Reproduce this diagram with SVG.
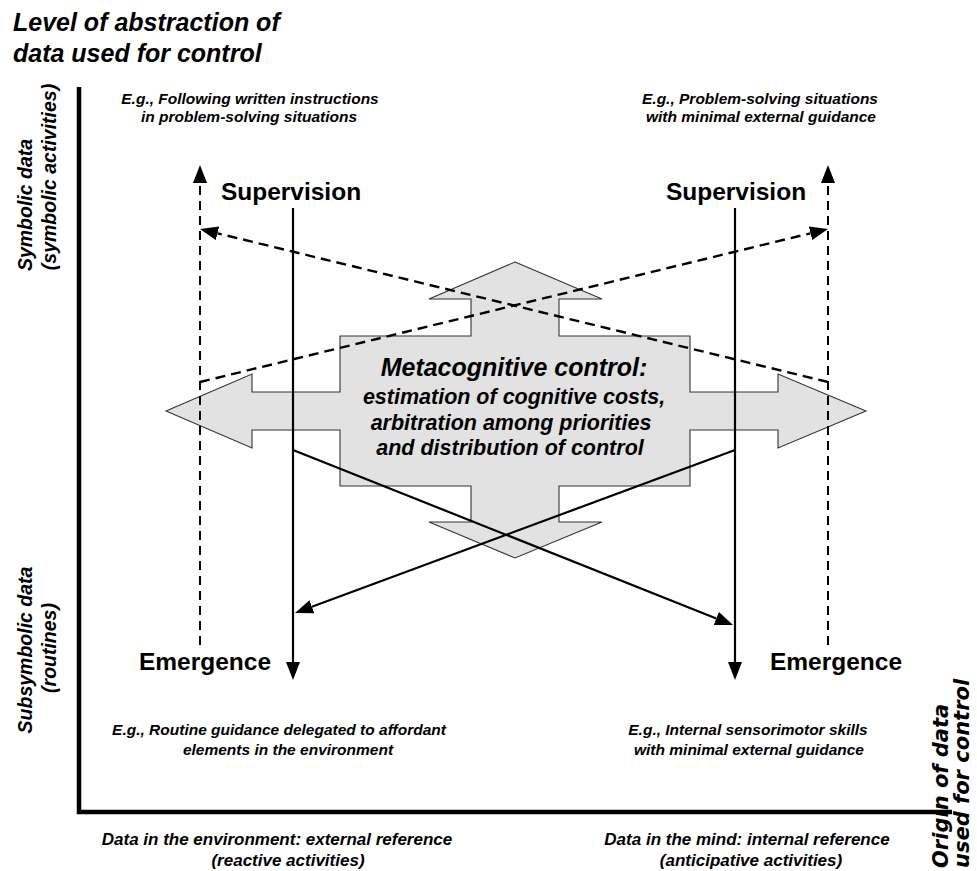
<svg xmlns="http://www.w3.org/2000/svg" width="977" height="871" viewBox="0 0 977 871">
<style>
  text { font-family: "Liberation Sans", Arial, sans-serif; fill: #000; }
  .bi { font-weight: bold; font-style: italic; }
  .b { font-weight: bold; }
  .title { font-size: 25px; }
  .side { font-size: 19.5px; }
  .ex { font-size: 15.5px; }
  .ax { font-size: 17px; }
  .lab { font-size: 24.5px; }
  .origin { font-family: "DejaVu Sans", Verdana, sans-serif; font-size: 21px; font-weight: bold; font-style: oblique; }
  .axis { stroke: #000; stroke-width: 4.5; fill: none; }
  .solid { stroke: #000; stroke-width: 2.2; fill: none; }
  .dash { stroke: #000; stroke-width: 2.4; fill: none; stroke-dasharray: 10 6; }
  .vdash { stroke: #000; stroke-width: 2; fill: none; stroke-dasharray: 9 6; }
  .cross { fill: #e2e2e2; stroke: #333; stroke-width: 1.1; }
</style>
<defs>
  <marker id="ah" viewBox="0 -7 18 14" refX="0" refY="0" markerWidth="18" markerHeight="14" markerUnits="userSpaceOnUse" orient="auto">
    <path d="M0,-7 L18,0 L0,7 z" fill="#000"/>
  </marker>
</defs>
<rect width="977" height="871" fill="#fff"/>

<g id="title">
  <text class="bi title" x="13" y="31">Level of abstraction of</text>
  <text class="bi title" x="13" y="62">data used for control</text>
</g>

<g id="axes">
  <path class="axis" d="M79,87 V812 H952"/>
</g>

<g id="y-symbolic">
  <text class="bi side" text-anchor="middle" transform="translate(32,205) rotate(-90)">Symbolic data</text>
  <text class="bi side" text-anchor="middle" transform="translate(56,177) rotate(-90)">(symbolic activities)</text>
</g>
<g id="y-subsymbolic">
  <text class="bi side" text-anchor="middle" transform="translate(32,650) rotate(-90)">Subsymbolic data</text>
  <text class="bi side" text-anchor="middle" transform="translate(56,648) rotate(-90)">(routines)</text>
</g>
<g id="x-origin">
  <text class="origin" transform="translate(948,868) rotate(-90)">Origin of data</text>
  <text class="origin" transform="translate(969,868) rotate(-90)">used for control</text>
</g>

<g id="example-top-left">
  <text class="bi ex" text-anchor="middle" x="250" y="104">E.g., Following written instructions</text>
  <text class="bi ex" text-anchor="middle" x="249" y="122">in problem-solving situations</text>
</g>
<g id="example-top-right">
  <text class="bi ex" text-anchor="middle" x="760" y="104">E.g., Problem-solving situations</text>
  <text class="bi ex" text-anchor="middle" x="761" y="122">with minimal external guidance</text>
</g>
<g id="example-bottom-left">
  <text class="bi ex" text-anchor="middle" x="279" y="735">E.g., Routine guidance delegated to affordant</text>
  <text class="bi ex" text-anchor="middle" x="288" y="755">elements in the environment</text>
</g>
<g id="example-bottom-right">
  <text class="bi ex" text-anchor="middle" x="748" y="735">E.g., Internal sensorimotor skills</text>
  <text class="bi ex" text-anchor="middle" x="749" y="755">with minimal external guidance</text>
</g>

<g id="x-label-left">
  <text class="bi ax" text-anchor="middle" x="277" y="845">Data in the environment: external reference</text>
  <text class="bi ax" text-anchor="middle" x="288" y="866">(reactive activities)</text>
</g>
<g id="x-label-right">
  <text class="bi ax" text-anchor="middle" x="747" y="845">Data in the mind: internal reference</text>
  <text class="bi ax" text-anchor="middle" x="751" y="866">(anticipative activities)</text>
</g>

<g id="metacognitive-control">
  <polygon class="cross" points="515,262 602,299 559,299 559,336 690,336 690,392 778,392 778,374 866,411 778,448 778,430 690,430 690,486 559,486 559,522 602,522 515,558 429,522 471,522 471,486 340,486 340,430 252,430 252,448 166,411 252,374 252,392 340,392 340,336 471,336 471,299 429,299"/>
</g>

<g id="connectors">
  <line class="vdash" x1="200" y1="645" x2="200" y2="183" marker-end="url(#ah)"/>
  <line class="vdash" x1="828" y1="645" x2="828" y2="183" marker-end="url(#ah)"/>
  <line class="dash" x1="200" y1="382" x2="810.5" y2="233.3" marker-end="url(#ah)"/>
  <line class="dash" x1="828" y1="382" x2="217.5" y2="233.3" marker-end="url(#ah)"/>
  <line class="solid" x1="293" y1="208" x2="293" y2="662" marker-end="url(#ah)"/>
  <line class="solid" x1="735" y1="208" x2="735" y2="662" marker-end="url(#ah)"/>
  <line class="solid" x1="293" y1="450" x2="716.3" y2="618.4" marker-end="url(#ah)"/>
  <line class="solid" x1="735" y1="450" x2="311.9" y2="606.8" marker-end="url(#ah)"/>
</g>

<g id="metacognitive-text">
  <text class="bi" text-anchor="middle" x="514" y="376" font-size="25">Metacognitive control:</text>
  <text class="bi" text-anchor="middle" x="514" y="404" font-size="21.5">estimation of cognitive costs,</text>
  <text class="bi" text-anchor="middle" x="511" y="430" font-size="21.5">arbitration among priorities</text>
  <text class="bi" text-anchor="middle" x="510" y="455" font-size="21.5">and distribution of control</text>
</g>

<g id="supervision-left"><text class="b lab" text-anchor="middle" x="291" y="200">Supervision</text></g>
<g id="supervision-right"><text class="b lab" text-anchor="middle" x="736" y="200">Supervision</text></g>
<g id="emergence-left"><text class="b lab" text-anchor="middle" x="205" y="670">Emergence</text></g>
<g id="emergence-right"><text class="b lab" text-anchor="middle" x="836" y="670">Emergence</text></g>
</svg>
